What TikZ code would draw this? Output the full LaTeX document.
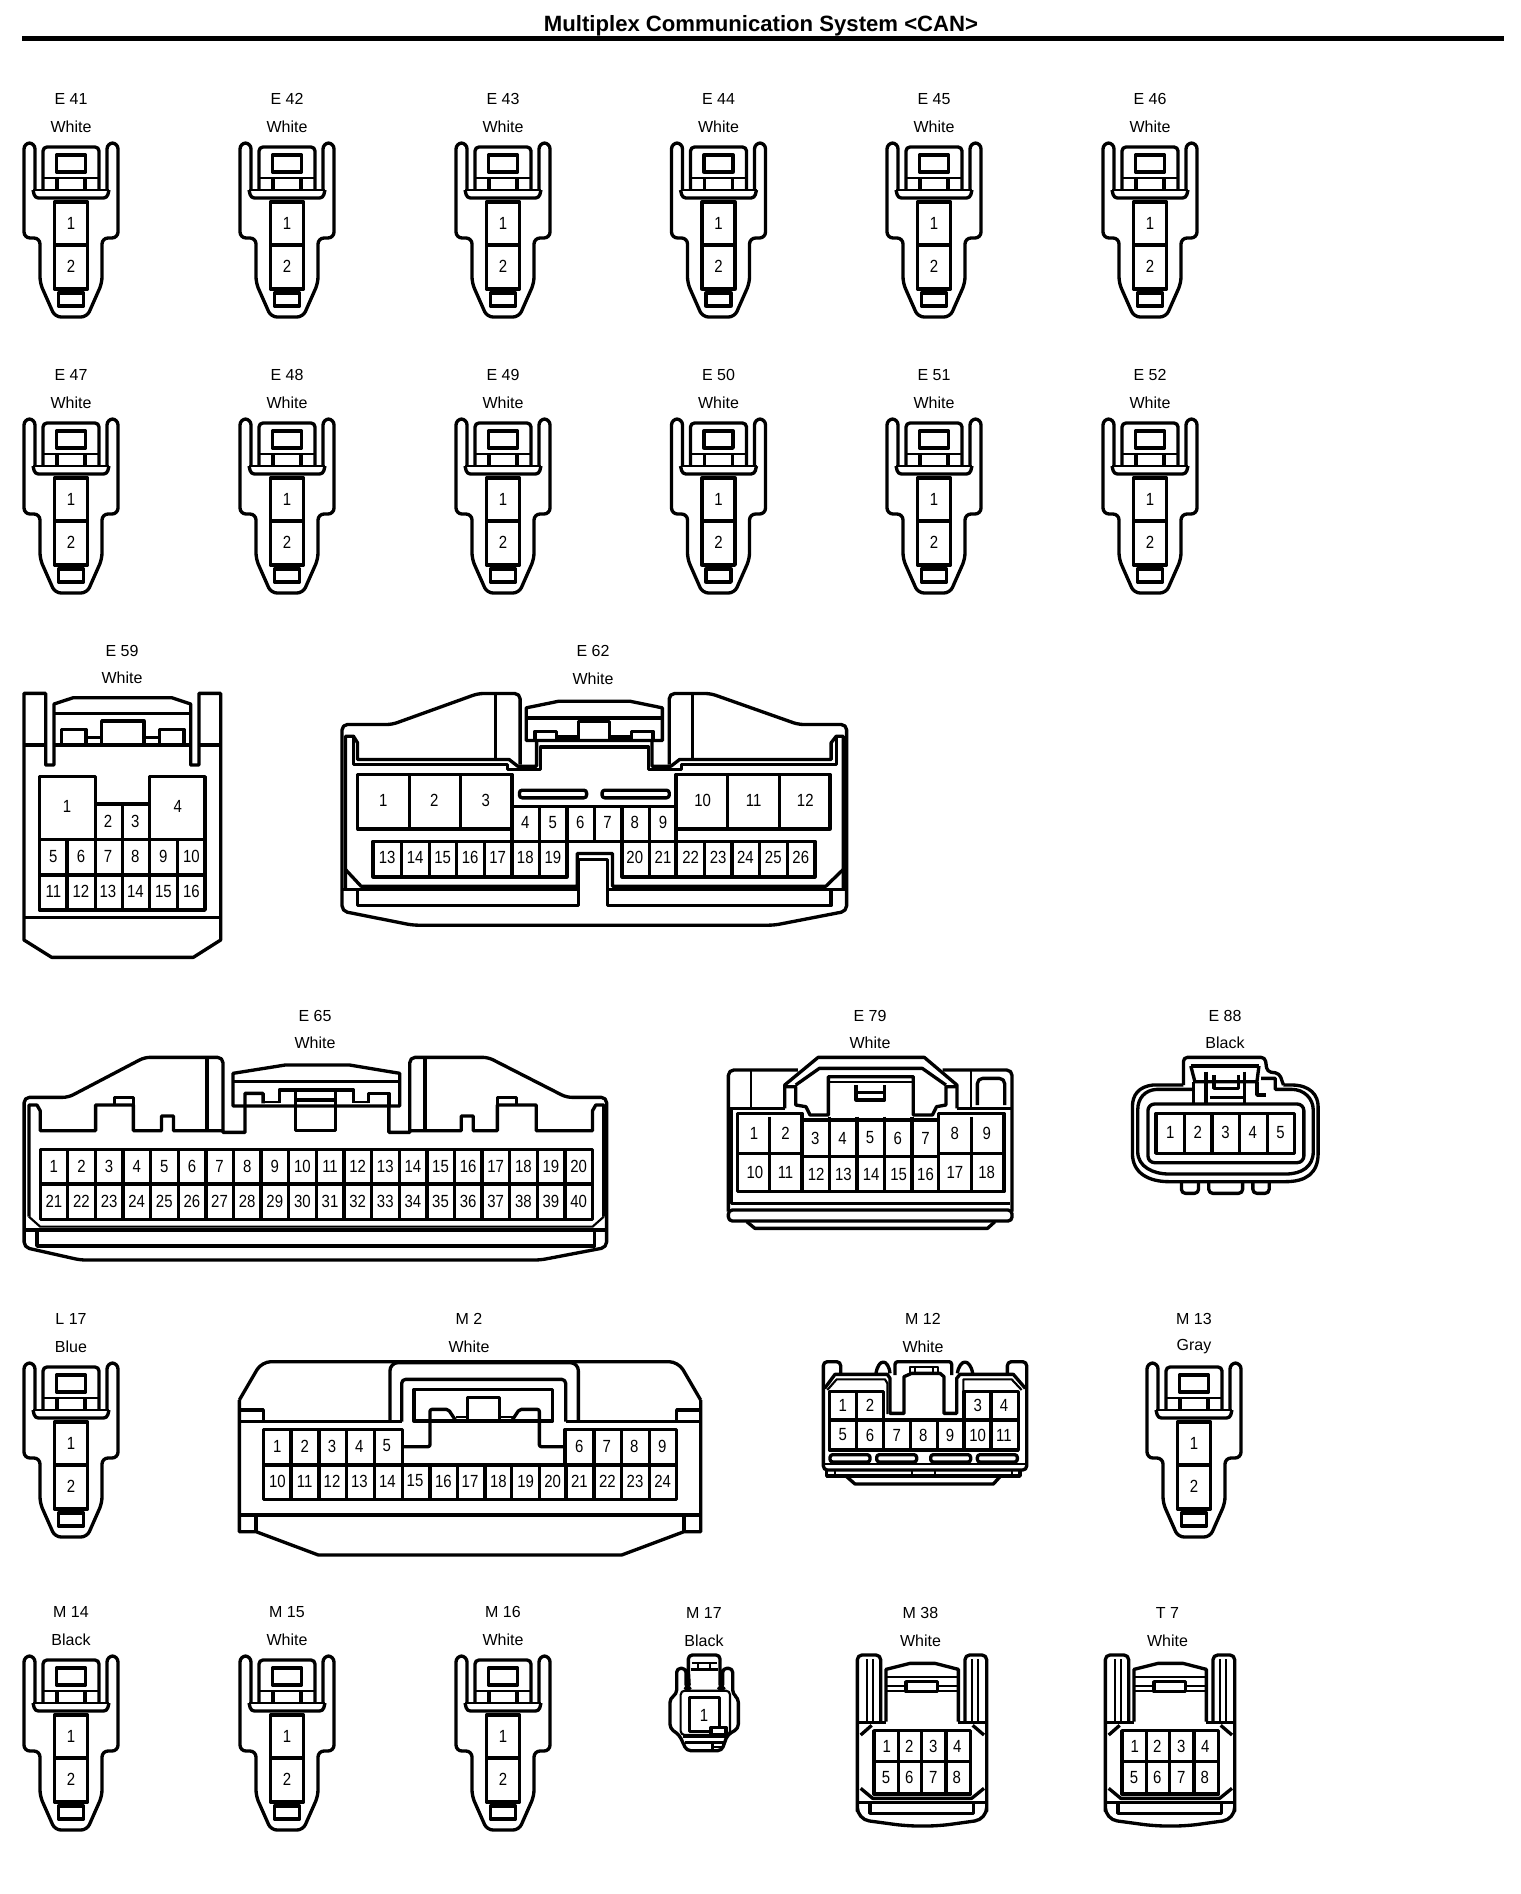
\documentclass[tikz,border=0pt]{standalone}
\usepackage{fontspec}
\setmainfont{Liberation Sans}
\newfontfamily\pinfont[FakeStretch=0.85]{Liberation Sans}
\tikzset{
  lab/.style={inner sep=0pt,font=\fontsize{12}{14}\selectfont},
  pintext/.style={inner sep=0pt,font=\pinfont\fontsize{13.2}{15}\selectfont},
  thinl/.style={line width=1.6pt}
}
\newcommand{\pins}[3]{\foreach \x/\t in {#3} \node[pintext] (#1-\t) at (\x,#2) {\t};}
\newcommand{\conlabel}[5]{%
  \node[lab] (tag #1) at (#3,#4) {#1};
  \node[lab] (col #1) at (#3,#5) {#2};}
\newcommand{\twopin}[4]{% label colour cx top
  \conlabel{#1}{#2}{#3}{#4-44}{#4-16}
  \begin{scope}[shift={(#3,#4)}]
    \draw (-36,47) [rounded corners=4.5] -- (-36,0) -- (-47,0) -- (-47,95) -- (-31,95) -- (-31,140) -- (-16,174) -- (16,174) -- (31,140) -- (31,95) -- (47,95) -- (47,0) -- (36,0) -- (36,47);
    \draw[thinl] (-38,47) -- (38,47);
    \draw[rounded corners=2.5] (-38,47) -- (-36,55) -- (36,55) -- (38,47);
    \draw[rounded corners=3] (-28,47) -- (-28,4) -- (28,4) -- (28,47);
    \draw (-14.5,12) rectangle (14.5,29);
    \draw[thinl] (-28,35) -- (28,35);
    \draw (-14,35) -- (-14,47) (14,35) -- (14,47);
    \draw (-16.5,59) rectangle (16.5,146) (-16.5,102) -- (16.5,102);
    \draw (-12.5,150) rectangle (12.5,163);
    \node[pintext] (#1-1) at (0,80) {1};
    \node[pintext] (#1-2) at (0,123) {2};
  \end{scope}}
\newcommand{\eightpin}[2]{% name, dx
  \begin{scope}[shift={(650+#2,1620)},x=0.25pt,y=-0.25pt]
    \draw[rounded corners=3.5] (692,305) -- (692,105) -- (622,105) -- (622,560) [rounded corners=9] -- (622,598) -- (770,618) -- (865,618) -- (1010,598) [rounded corners=3.5] -- (1010,560) -- (1010,105) -- (945,105) -- (945,305);
    \draw[thinl] (650,118) -- (650,310) (670,118) -- (670,310) (965,118) -- (965,310) (985,118) -- (985,310);
    \draw (708,305) -- (708,148) -- (780,130) -- (855,130) -- (925,148) -- (925,305);
    \draw (622,308) -- (708,308) (925,308) -- (1010,308);
    \draw[thinl] (708,170) -- (925,170) (708,197) -- (768,197) (862,197) -- (925,197) (708,212) -- (768,212) (862,212) -- (925,212);
    \draw (768,185) rectangle (862,215);
    \draw (632,345) -- (665,316) (968,316) -- (1002,345) (632,505) -- (668,535) -- (965,535) -- (1002,505);
    \draw (622,547) -- (1010,547);
    \draw (660,547) -- (660,580) -- (970,580) -- (970,547);
    \draw (672,332) rectangle (962,522) (672,425) -- (962,425);
    \draw (745,332) -- (745,522) (815,332) -- (815,522) (888,332) -- (888,522);
    \pins{#1}{380}{710/1,778/2,850/3,922/4}
    \pins{#1}{472}{708/5,778/6,850/7,920/8}
  \end{scope}}
\begin{document}
\begin{tikzpicture}[x=0.75pt,y=-0.75pt,line width=2.5pt,line join=round,line cap=butt]
\useasboundingbox (0,0) rectangle (1520,1894);
\fill[white] (0,0) rectangle (1520,1894);
\node[inner sep=0pt,font=\bfseries\fontsize{16.6}{20}\selectfont] (title) at (761,26) {Multiplex Communication System <CAN>};
\draw[line width=3.8pt] (22,38.5) -- (1504,38.5);
% two pin rows
\twopin{E 41}{White}{71}{143}\twopin{E 42}{White}{287}{143}\twopin{E 43}{White}{503}{143}
\twopin{E 44}{White}{718.5}{143}\twopin{E 45}{White}{934}{143}\twopin{E 46}{White}{1150}{143}
\twopin{E 47}{White}{71}{419}\twopin{E 48}{White}{287}{419}\twopin{E 49}{White}{503}{419}
\twopin{E 50}{White}{718.5}{419}\twopin{E 51}{White}{934}{419}\twopin{E 52}{White}{1150}{419}
\twopin{L 17}{Blue}{71}{1363}\twopin{M 13}{Gray}{1194}{1363}
\twopin{M 14}{Black}{71}{1656}\twopin{M 15}{White}{287}{1656}\twopin{M 16}{White}{503}{1656}
% E59
\conlabel{E 59}{White}{122}{651}{678}
\begin{scope}[shift={(0,630)},x=0.25pt,y=-0.25pt]
  \draw (72,190) -- (72,930) -- (155,982) -- (580,982) -- (662,930) -- (662,190) -- (597,190) -- (597,405) -- (572,405) -- (572,222) -- (515,203) -- (220,203) -- (162,222) -- (162,405) -- (137,405) -- (137,190) -- cycle;
  \draw (72,345) -- (137,345) (162,345) -- (572,345) (597,345) -- (662,345) (162,250) -- (572,250);
  \draw (185,345) -- (185,298) -- (258,298) -- (258,345) (305,345) -- (305,273) -- (432,273) -- (432,345) (478,345) -- (478,298) -- (552,298) -- (552,345);
  \draw (258,322) -- (305,322) (432,322) -- (478,322);
  \draw (72,862) -- (662,862);
  \draw (118,440) -- (286,440) -- (286,522) -- (448,522) -- (448,440) -- (615,440) -- (615,840) -- (118,840) -- cycle;
  \draw (118,628) -- (615,628) (118,735) -- (615,735);
  \draw (201,628) -- (201,840) (286,522) -- (286,840) (368,522) -- (368,840) (448,522) -- (448,840) (533,628) -- (533,840);
  \pins{E59}{530}{201/1,533/4}
  \pins{E59}{575}{324/2,406/3}
  \pins{E59}{680}{160/5,243/6,324/7,406/8,490/9,574/10}
  \pins{E59}{785}{160/11,243/12,324/13,406/14,490/15,574/16}
\end{scope}
% E62
\conlabel{E 62}{White}{593}{651}{679}
\begin{scope}[shift={(330,669.5)},x=0.2583pt,y=-0.25pt]
  \draw[rounded corners=4] (552,285) -- (552,72) -- (430,72) -- (180,165) -- (35,165) -- (35,725) -- (240,767) -- (1290,767) -- (1500,725) -- (1500,165) -- (1360,165) -- (1105,72) -- (985,72) -- (985,285);
  \draw (45,660) -- (45,200) -- (68,200) -- (80,220) -- (80,270) -- (520,270) -- (545,290) -- (600,290) -- (600,213);
  \draw (68,200) -- (68,285) -- (515,285) -- (515,300) -- (612,300) -- (612,232) -- (925,232) -- (925,300) -- (1020,300) -- (1020,285) -- (1470,285) -- (1470,200);
  \draw (935,213) -- (935,290) -- (990,290) -- (1015,270) -- (1455,270) -- (1455,220) -- (1470,200) -- (1490,200) -- (1490,660);
  \draw (570,213) -- (570,115) -- (665,95) -- (870,95) -- (965,115) -- (965,213) -- cycle;
  \draw (570,145) -- (965,145);
  \draw (595,213) -- (595,185) -- (658,185) -- (658,213) (722,213) -- (722,155) -- (812,155) -- (812,213) (875,213) -- (875,185) -- (938,185) -- (938,213);
  \draw (658,202) -- (722,202) (812,202) -- (875,202);
  \draw (480,72) -- (480,270) (1052,72) -- (1052,270);
  \draw[thinl] (35,660) -- (722,660) (805,660) -- (1500,660);
  \draw (80,660) -- (80,708) -- (722,708) -- (722,570) -- (805,570) -- (805,708) -- (1455,708) -- (1455,660);
  \draw (45,600) -- (90,650) -- (718,650) -- (718,552) -- (820,552) -- (820,650) -- (1440,650) -- (1490,600);
  \draw (80,315) rectangle (528,478) (230,315) -- (230,478) (378,315) -- (378,478);
  \draw (1005,315) rectangle (1452,478) (1155,315) -- (1155,478) (1305,315) -- (1305,478);
  \draw[rounded corners=2] (550,362) rectangle (745,385) (790,362) rectangle (985,385);
  \draw (528,410) -- (1005,410) (688,515) -- (848,515);
  \draw (528,410) -- (528,622) (608,410) -- (608,622) (688,410) -- (688,622) (768,410) -- (768,515) (848,410) -- (848,622) (928,410) -- (928,622) (1005,410) -- (1005,622);
  \draw (125,515) rectangle (688,622) (848,515) rectangle (1408,622);
  \draw (207,515) -- (207,622) (288,515) -- (288,622) (368,515) -- (368,622) (448,515) -- (448,622) (1087,515) -- (1087,622) (1167,515) -- (1167,622) (1247,515) -- (1247,622) (1328,515) -- (1328,622);
  \pins{E62}{393}{155/1,303/2,452/3,1082/10,1230/11,1380/12}
  \pins{E62}{460}{567/4,647/5,727/6,806/7,885/8,967/9}
  \pins{E62}{565}{166/13,247/14,327/15,407/16,487/17,567/18,647/19,885/20,967/21,1047/22,1127/23,1206/24,1287/25,1367/26}
\end{scope}
% E65
\conlabel{E 65}{White}{315}{1016}{1043}
\begin{scope}[shift={(0,1040)},x=0.3013pt,y=-0.25pt]
  \draw[rounded corners=4] (555,275) -- (555,52) -- (360,52) -- (170,172) -- (60,172) -- (60,622) -- (200,660) -- (1345,660) -- (1510,622) -- (1510,172) -- (1410,172) -- (1215,52) -- (1020,52) -- (1020,275);
  \draw (72,530) -- (72,195) -- (92,195) -- (100,212) -- (100,272) -- (238,272) -- (238,195) -- (332,195) -- (332,272) -- (402,272) -- (402,228) -- (432,228) -- (432,272) -- (555,272) -- (555,277) -- (610,277) -- (610,160) -- (655,160) -- (655,190);
  \draw (285,195) -- (285,172) -- (332,172) -- (332,195);
  \draw (580,198) -- (580,100) -- (710,75) -- (870,75) -- (995,100) -- (995,198) -- cycle;
  \draw (580,125) -- (995,125);
  \draw (695,190) -- (695,150) -- (880,150) -- (880,190) (918,190) -- (918,160) -- (968,160) -- (968,198);
  \draw[thinl] (655,185) -- (695,185) (880,185) -- (918,185);
  \draw (735,150) -- (735,272) -- (835,272) -- (835,150) (735,180) -- (835,180);
  \draw (968,198) -- (968,277) -- (1020,277) -- (1020,272) -- (1148,272) -- (1148,228) -- (1178,228) -- (1178,272) -- (1238,272) -- (1238,195) -- (1335,195) -- (1335,272) -- (1475,272) -- (1475,212) -- (1483,195) -- (1503,195) -- (1503,530);
  \draw (1238,195) -- (1238,172) -- (1285,172) -- (1285,195);
  \draw (515,52) -- (515,272) (1058,52) -- (1058,272);
  \draw (100,328) rectangle (1475,538) (100,432) -- (1475,432);
  \foreach \i in {1,...,19} \draw ({100+68.75*\i},328) -- ({100+68.75*\i},538);
  \foreach \i [evaluate=\i as \xx using 134+68.75*(\i-1),evaluate=\i as \yy using int(\i+20)] in {1,...,20} {
    \node[pintext] (E65-\i) at (\xx,380) {\i};
    \node[pintext] (E65-\yy) at (\xx,485) {\yy};
  }
  \draw[thinl] (72,530) -- (100,560) -- (1475,560) -- (1503,530);
  \draw (60,570) -- (1510,570);
  \draw (92,570) -- (92,618) -- (1480,618) -- (1480,570);
\end{scope}
% E79, E88
\conlabel{E 79}{White}{870}{1016}{1043}
\conlabel{E 88}{Black}{1225}{1016}{1043}
\begin{scope}[shift={(710,1040)},x=0.3061pt,y=-0.25pt]
  \draw[rounded corners=4] (45,515) -- (45,90) -- (215,90);
  \draw[rounded corners=4] (570,90) -- (740,90) -- (740,515);
  \draw[rounded corners=3] (45,510) -- (740,510) -- (740,543) -- (45,543) -- cycle;
  \draw (90,545) -- (110,565) -- (680,565) -- (698,545);
  \draw (52,205) -- (52,490) -- (735,490) (45,205) -- (183,205) (605,205) -- (740,205);
  \draw (183,205) -- (183,135) -- (265,52) -- (525,52) -- (605,135) -- (605,205);
  \draw (210,135) -- (268,85) -- (520,85) -- (578,135);
  \draw (183,140) -- (210,140) -- (210,195) -- (235,200) -- (245,225) -- (290,225) -- (290,110) -- (498,110) -- (498,225) -- (545,225) -- (555,200) -- (578,195) -- (578,140) -- (605,140);
  \draw[thinl] (295,125) -- (495,125);
  \draw (358,135) -- (358,180) -- (428,180) -- (428,135) (358,158) -- (428,158);
  \draw[thinl] (100,90) -- (100,205) (640,90) -- (640,205);
  \draw[rounded corners=4] (655,195) -- (655,115) -- (722,115) -- (722,195);
  \draw (68,220) -- (225,220) -- (225,240) -- (560,240) -- (560,220) -- (720,220) -- (720,455) -- (68,455) -- cycle;
  \draw (68,340) -- (225,340) (225,350) -- (560,350) (560,340) -- (720,340);
  \foreach \xv in {145,225,292,360,428,495,560,640} \draw (\xv,230) -- (\xv,455);
  \pins{E79}{279}{108/1,185/2,600/8,678/9}
  \pins{E79}{294}{258/3,325/4,392/5,460/6,528/7}
  \pins{E79}{398}{110/10,185/11,600/17,678/18}
  \pins{E79}{403}{260/12,327/13,395/14,462/15,528/16}
  % E88
  \draw[rounded corners=3] (1160,135) -- (1160,52) -- (1360,52) -- (1365,95) -- (1395,100) -- (1405,135);
  \draw (1160,135) -- (1085,135) .. controls (1050,140) and (1035,165) .. (1035,200) -- (1035,340) .. controls (1035,400) and (1075,425) .. (1125,425) -- (1410,425) .. controls (1460,425) and (1490,400) .. (1490,340) -- (1490,200) .. controls (1490,165) and (1470,135) .. (1425,135) -- (1405,135);
  \draw (1185,148) -- (1095,148) .. controls (1065,150) and (1048,175) .. (1048,210) -- (1048,335) .. controls (1048,380) and (1085,402) .. (1125,402) -- (1410,402) .. controls (1450,402) and (1478,380) .. (1478,335) -- (1478,210) .. controls (1478,175) and (1455,148) .. (1425,148) -- (1385,148) -- (1385,115) -- (1350,115);
  \draw[rounded corners=5] (1073,192) rectangle (1455,368);
  \draw (1093,220) rectangle (1432,340);
  \foreach \xv in {1162,1230,1298,1366} \draw (\xv,220) -- (\xv,340);
  \pins{E88}{278}{1128/1,1195/2,1263/3,1330/4,1398/5}
  \draw (1178,78) -- (1345,78);
  \draw (1178,78) -- (1188,125) -- (1340,125) -- (1345,78);
  \draw (1185,125) -- (1185,192) (1215,95) -- (1215,192) (1310,95) -- (1310,192) (1340,125) -- (1340,165) -- (1362,165);
  \draw (1235,105) -- (1235,145) -- (1295,145) -- (1295,105);
  \draw (1225,172) -- (1310,172);
  \draw[rounded corners=3] (1155,425) -- (1155,460) -- (1197,460) -- (1197,425);
  \draw[rounded corners=3] (1222,425) -- (1222,460) -- (1305,460) -- (1305,425);
  \draw[rounded corners=3] (1330,425) -- (1330,460) -- (1370,460) -- (1370,425);
\end{scope}
% M2
\conlabel{M 2}{White}{469}{1319}{1347}
\begin{scope}[shift={(220,1340)},x=0.25pt,y=-0.25pt]
  \draw[rounded corners=7] (1442,180) -- (1375,65) -- (125,65) -- (58,180);
  \draw (58,180) -- (58,575) -- (108,575) -- (295,645) -- (1205,645) -- (1392,575) -- (1442,575) -- (1442,180);
  \draw (58,245) -- (545,245) (1037,245) -- (1442,245);
  \draw[rounded corners=6] (510,245) -- (510,68) -- (1075,68) -- (1075,245);
  \draw[rounded corners=3] (545,245) -- (545,118) -- (1037,118) -- (1037,245);
  \draw (582,148) rectangle (998,243);
  \draw[rounded corners=1.5] (550,320) -- (630,320) -- (630,208) -- (685,208) -- (708,243);
  \draw (742,243) -- (742,172) -- (838,172) -- (838,243);
  \draw[rounded corners=1.5] (875,243) -- (898,208) -- (958,208) -- (958,320) -- (1035,320);
  \draw[thinl] (708,230) -- (742,230) (838,230) -- (885,230);
  \draw (58,210) -- (130,210) -- (130,245) (1442,210) -- (1370,210) -- (1370,245);
  \draw (58,525) -- (1442,525) (108,525) -- (108,575) (1392,525) -- (1392,575);
  \draw (130,268) -- (548,268) -- (548,375) -- (1035,375) -- (1035,268) -- (1370,268) -- (1370,478) -- (130,478) -- cycle;
  \draw (130,375) -- (1370,375);
  \foreach \xv in {213,297,380,463,1122,1205,1288} \draw (\xv,268) -- (\xv,478);
  \foreach \xv in {548,630,712,795,875,958,1038} \draw (\xv,375) -- (\xv,478);
  \pins{M2}{318}{172/1,254/2,336/3,418/4,500/5,1078/6,1160/7,1243/8,1327/9}
  \pins{M2}{423}{172/10,254/11,336/12,418/13,502/14,585/15,670/16,750/17,835/18,917/19,998/20,1078/21,1162/22,1245/23,1328/24}
\end{scope}
% M12
\conlabel{M 12}{White}{923}{1319}{1347}
\begin{scope}[shift={(800,1340)},x=0.25pt,y=-0.25pt]
  \draw (88,155) -- (250,155) -- (250,240) -- (490,240) -- (490,155) -- (655,155) -- (655,330) -- (88,330) -- cycle;
  \draw (88,240) -- (655,240);
  \foreach \xv in {170,250,492,573} \draw (\xv,155) -- (\xv,330);
  \foreach \xv in {332,412} \draw (\xv,240) -- (\xv,330);
  \pins{M12}{195}{128/1,210/2,533/3,612/4}
  \pins{M12}{285}{128/5,210/6,290/7,370/8,450/9,533/10,612/11}
  \draw[rounded corners=3] (122,103) -- (122,65) -- (70,65) -- (70,390) -- (680,390) -- (680,65) -- (622,65) -- (622,103);
  \draw (74,145) -- (105,103) -- (262,103) -- (270,115) -- (270,220) -- (312,220) -- (312,110) -- (335,100) -- (420,100) -- (432,110) -- (432,220) -- (470,220) -- (470,115) -- (480,103) -- (640,103) -- (676,145);
  \draw[thinl] (82,150) -- (110,118) -- (255,118) -- (262,130) -- (262,222) (490,222) -- (490,118) -- (635,118) -- (665,150);
  \draw[thinl] (72,372) -- (678,372);
  \draw[rounded corners=2] (285,105) -- (285,65) -- (455,65) -- (455,105);
  \draw[thinl] (330,100) -- (330,80) -- (415,80) -- (415,100);
  \draw[thinl] (345,82) -- (345,100) (400,82) -- (400,100);
  \draw (228,100) .. controls (235,55) and (265,55) .. (270,100);
  \draw (472,100) .. controls (480,55) and (510,55) .. (518,100);
  \draw[rounded corners=2,fill=white] (90,344) rectangle (210,366) (230,344) rectangle (350,366) (392,344) rectangle (512,366) (532,344) rectangle (652,366);
  \draw (80,390) -- (80,408) -- (660,408) -- (660,390);
  \draw[thinl] (105,392) -- (105,408) (335,392) -- (335,408) (405,392) -- (405,408) (635,392) -- (635,408);
  \draw (140,410) -- (165,432) -- (580,432) -- (600,410);
\end{scope}
% M17
\conlabel{M 17}{Black}{704}{1613}{1641}
\begin{scope}[shift={(650,1620)},x=0.25pt,y=-0.25pt]
  \draw[rounded corners=3] (115,150) -- (115,105) -- (210,105) -- (210,205) -- (218,205) -- (218,145) -- (248,145) -- (248,222) -- (265,235) -- (265,325) -- (232,345) -- (215,392) -- (110,392) -- (88,345) -- (60,325) -- (60,235) -- (80,222) -- (80,145) -- (108,145) -- (108,205) -- (118,205) -- cycle;
  \draw[thinl] (125,130) -- (200,130) (145,130) -- (145,148) (180,130) -- (180,148);
  \draw (122,148) -- (203,148);
  \draw[rounded corners=3,thinl] (92,345) -- (92,212) -- (240,212) -- (240,345) -- cycle;
  \draw (118,232) rectangle (208,335);
  \draw[fill=white] (183,322) rectangle (228,345);
  \draw (100,348) -- (232,348);
  \draw (105,367) -- (222,367);
  \draw (187,367) -- (187,392);
  \draw[thinl] (187,380) -- (215,380);
  \pins{M17}{285}{162/1}
\end{scope}
% M38, T7
\conlabel{M 38}{White}{920.5}{1613}{1641}
\conlabel{T 7}{White}{1167.5}{1613}{1641}
\eightpin{M38}{0}
\eightpin{T7}{248}
\end{tikzpicture}
\end{document}
